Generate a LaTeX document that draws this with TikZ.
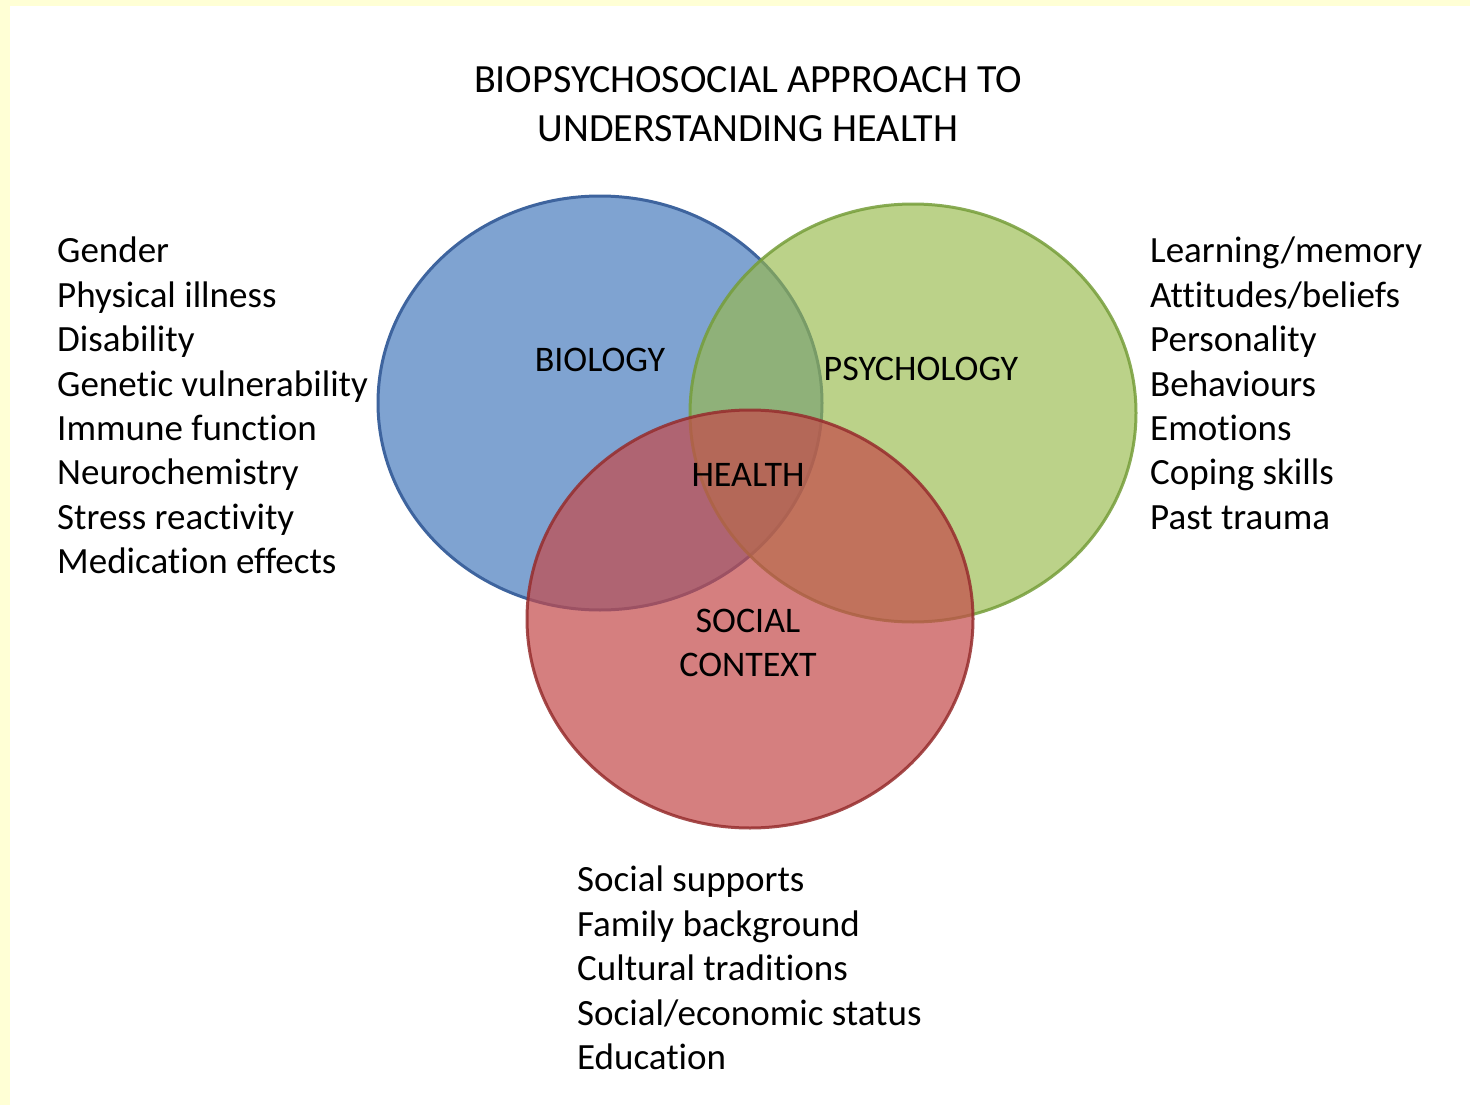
\documentclass[tikz,border=0pt]{standalone}
\usepackage{fontspec}
\setmainfont{Carlito}[Ligatures={NoCommon,NoDiscretionary,NoContextual}]
\usetikzlibrary{shapes.geometric}
\definecolor{paper}{RGB}{255,255,213}
\definecolor{biofill}{RGB}{127,163,209}
\definecolor{bioline}{RGB}{62,100,158}
\definecolor{psyfill}{RGB}{152,186,75}
\definecolor{psyline}{RGB}{118,158,58}
\definecolor{socfill}{RGB}{196,74,74}
\definecolor{socline}{RGB}{150,45,45}
\begin{document}
\begin{tikzpicture}[x=1pt,y=-1pt,
  set/.style={ellipse,inner sep=0pt,line width=3pt},
  listtxt/.style={anchor=base west,inner sep=0pt,font=\fontsize{37}{44}\selectfont,align=left},
  lbl/.style={anchor=base,inner sep=0pt,font=\fontsize{36}{44}\selectfont},
  ttl/.style={anchor=base,inner sep=0pt,font=\fontsize{40}{49}\selectfont}]
  \path[use as bounding box,fill=white] (0,0) rectangle (1470,1105);
  % pale yellow frame strips
  \fill[paper] (0,0) rectangle (1470,6);
  \fill[paper] (0,0) rectangle (10,1105);

  % the three overlapping sets
  \node[set,draw=bioline,fill=biofill,minimum width=444pt,minimum height=414pt] (bio) at (600,403) {};
  \node[set,draw=psyline,draw opacity=0.85,fill=psyfill,fill opacity=0.65,minimum width=446pt,minimum height=418pt] (psy) at (913,413) {};
  \node[set,draw=socline,draw opacity=0.85,fill=socfill,fill opacity=0.7,minimum width=446pt,minimum height=418pt] (soc) at (750,619) {};

  % title
  \node[ttl] (t1) at (748,93) {BIOPSYCHOSOCIAL APPROACH TO};
  \node[ttl] (t2) at (748,142) {UNDERSTANDING HEALTH};

  % set labels
  \node[lbl] (lbio) at (600,371) {BIOLOGY};
  \node[lbl] (lpsy) at (921,380) {PSYCHOLOGY};
  \node[lbl] (lhealth) at (748,486) {HEALTH};
  \node[lbl] (lsoc1) at (748,632) {SOCIAL};
  \node[lbl] (lsoc2) at (748,676) {CONTEXT};

  % biological factors
  \node[listtxt] (b1) at (57,262) {Gender};
  \node[listtxt] (b2) at (57,307) {Physical illness};
  \node[listtxt] (b3) at (57,351) {Disability};
  \node[listtxt] (b4) at (57,396) {Genetic vulnerability};
  \node[listtxt] (b5) at (57,440) {Immune function};
  \node[listtxt] (b6) at (57,484) {Neurochemistry};
  \node[listtxt] (b7) at (57,529) {Stress reactivity};
  \node[listtxt] (b8) at (57,573) {Medication effects};

  % psychological factors
  \node[listtxt] (p1) at (1150,262) {Learning/memory};
  \node[listtxt] (p2) at (1150,307) {Attitudes/beliefs};
  \node[listtxt] (p3) at (1150,351) {Personality};
  \node[listtxt] (p4) at (1150,396) {Behaviours};
  \node[listtxt] (p5) at (1150,440) {Emotions};
  \node[listtxt] (p6) at (1150,484) {Coping skills};
  \node[listtxt] (p7) at (1150,529) {Past trauma};

  % social factors
  \node[listtxt] (s1) at (577,891) {Social supports};
  \node[listtxt] (s2) at (577,936) {Family background};
  \node[listtxt] (s3) at (577,980) {Cultural traditions};
  \node[listtxt] (s4) at (577,1025) {Social/economic status};
  \node[listtxt] (s5) at (577,1069) {Education};
\end{tikzpicture}
\end{document}
